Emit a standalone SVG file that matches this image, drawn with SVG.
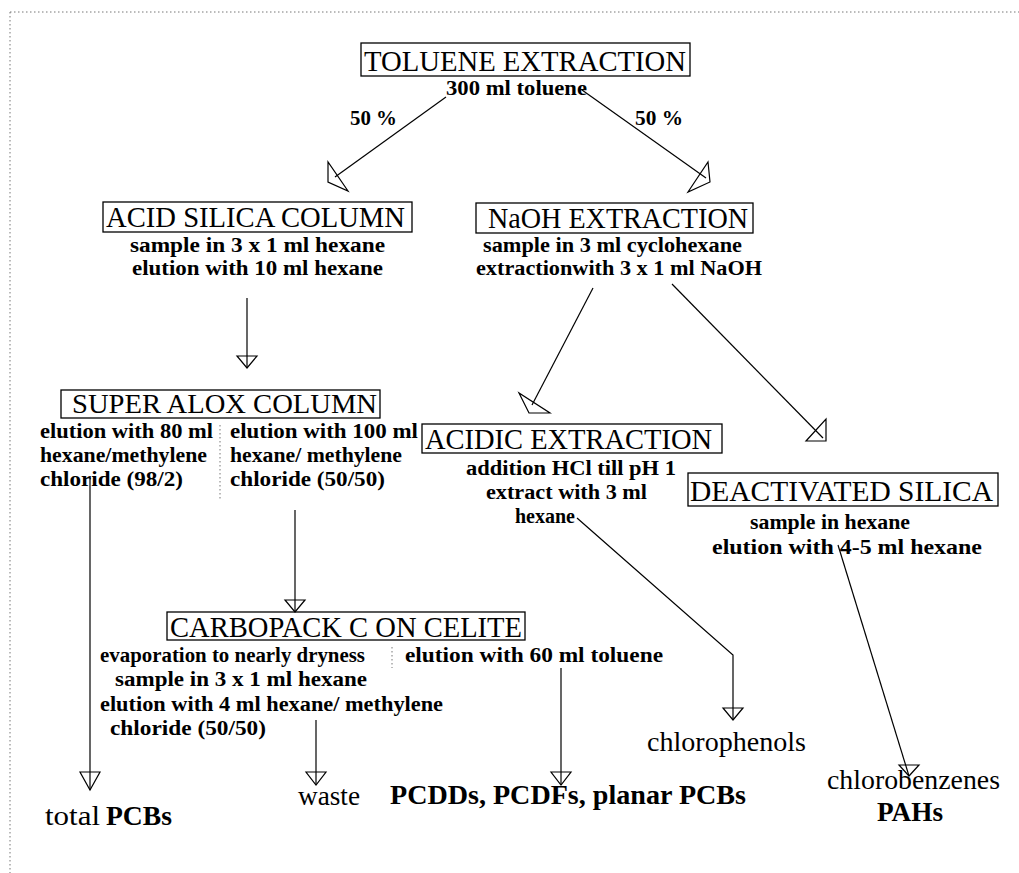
<svg xmlns="http://www.w3.org/2000/svg" width="1019" height="873" viewBox="0 0 1019 873">
<style>
text{font-family:'Liberation Serif','Times New Roman','DejaVu Serif',serif;fill:#000}
.t{font-size:30px}
.ts{font-size:28px}
.d{font-size:20px;font-weight:bold}
.o{font-size:28px}
.ob{font-size:28px;font-weight:bold}
.box{fill:none;stroke:#000;stroke-width:1.3}
.ln{fill:none;stroke:#000;stroke-width:1.2}
.ah{fill:none;stroke:#000;stroke-width:1.2;stroke-linejoin:miter}
.dot{fill:none;stroke:#777;stroke-width:1;stroke-dasharray:1.5 2.5}
</style>
<g id="border">
<line class="dot" x1="10" y1="12" x2="1019" y2="12"/>
<line class="dot" x1="10" y1="12" x2="10" y2="873"/>
</g>
<g font-family="'Liberation Serif', 'Times New Roman', serif">
<g id="toluene">
<rect class="box" x="361" y="43" width="329" height="33"/>
<text class="t" x="364" y="71" textLength="322" lengthAdjust="spacingAndGlyphs">TOLUENE EXTRACTION</text>
<text class="d" x="446" y="95" textLength="141" lengthAdjust="spacingAndGlyphs">300 ml toluene</text>
</g>
<g id="acid-silica">
<rect class="box" x="103" y="202" width="309" height="30"/>
<text class="t" x="106" y="227" textLength="299" lengthAdjust="spacingAndGlyphs">ACID SILICA COLUMN</text>
<text class="d" x="130" y="252" textLength="255" lengthAdjust="spacingAndGlyphs">sample in 3 x 1 ml hexane</text>
<text class="d" x="132" y="275" textLength="251" lengthAdjust="spacingAndGlyphs">elution with 10 ml hexane</text>
</g>
<g id="naoh">
<rect class="box" x="476" y="203" width="277" height="30"/>
<text class="t" x="488" y="228" textLength="260" lengthAdjust="spacingAndGlyphs">NaOH EXTRACTION</text>
<text class="d" x="483" y="252" textLength="259" lengthAdjust="spacingAndGlyphs">sample in 3 ml cyclohexane</text>
<text class="d" x="476" y="275" textLength="286" lengthAdjust="spacingAndGlyphs">extractionwith 3 x 1 ml NaOH</text>
</g>
<g id="super-alox">
<rect class="box" x="61" y="390" width="319" height="28"/>
<text class="ts" x="72" y="413" textLength="305" lengthAdjust="spacingAndGlyphs">SUPER ALOX COLUMN</text>
<text class="d" x="40" y="438" textLength="173" lengthAdjust="spacingAndGlyphs">elution with 80 ml</text>
<text class="d" x="40" y="462" textLength="167" lengthAdjust="spacingAndGlyphs">hexane/methylene</text>
<text class="d" x="40" y="486" textLength="143" lengthAdjust="spacingAndGlyphs">chloride (98/2)</text>
<text class="d" x="230" y="438" textLength="188" lengthAdjust="spacingAndGlyphs">elution with 100 ml</text>
<text class="d" x="230" y="462" textLength="172" lengthAdjust="spacingAndGlyphs">hexane/ methylene</text>
<text class="d" x="230" y="486" textLength="155" lengthAdjust="spacingAndGlyphs">chloride (50/50)</text>
<line class="dot" x1="220" y1="425" x2="220" y2="500"/>
</g>
<g id="acidic">
<rect class="box" x="422" y="424" width="300" height="29"/>
<text class="t" x="425" y="449" textLength="287" lengthAdjust="spacingAndGlyphs">ACIDIC EXTRACTION</text>
<text class="d" x="466" y="475" textLength="210" lengthAdjust="spacingAndGlyphs">addition HCl till pH 1</text>
<text class="d" x="486" y="499" textLength="161" lengthAdjust="spacingAndGlyphs">extract with 3 ml</text>
<text class="d" x="515" y="523" textLength="60" lengthAdjust="spacingAndGlyphs">hexane</text>
</g>
<g id="deactivated">
<rect class="box" x="688" y="473" width="310" height="33"/>
<text class="t" x="690" y="501" textLength="303" lengthAdjust="spacingAndGlyphs">DEACTIVATED SILICA</text>
<text class="d" x="750" y="529" textLength="160" lengthAdjust="spacingAndGlyphs">sample in hexane</text>
<text class="d" x="712" y="554" textLength="270" lengthAdjust="spacingAndGlyphs">elution  with 4-5 ml hexane</text>
</g>
<g id="carbopack">
<rect class="box" x="167" y="612" width="358" height="28"/>
<text class="t" x="170" y="637" textLength="352" lengthAdjust="spacingAndGlyphs">CARBOPACK C ON CELITE</text>
<text class="d" x="100" y="662" textLength="265" lengthAdjust="spacingAndGlyphs">evaporation to nearly dryness</text>
<text class="d" x="115" y="686" textLength="252" lengthAdjust="spacingAndGlyphs">sample in 3 x 1 ml hexane</text>
<text class="d" x="100" y="711" textLength="343" lengthAdjust="spacingAndGlyphs">elution with 4 ml hexane/ methylene</text>
<text class="d" x="110" y="735" textLength="156" lengthAdjust="spacingAndGlyphs">chloride (50/50)</text>
<text class="d" x="405" y="662" textLength="258" lengthAdjust="spacingAndGlyphs">elution with 60 ml toluene</text>
<line class="dot" x1="392" y1="647" x2="392" y2="668"/>
</g>
<g id="labels">
<text class="d" x="350" y="125" textLength="47" lengthAdjust="spacingAndGlyphs">50 %</text>
<text class="d" x="635" y="125" textLength="48" lengthAdjust="spacingAndGlyphs">50 %</text>
</g>
<g id="outputs">
<text class="o" x="45" y="825" textLength="55" lengthAdjust="spacingAndGlyphs">total</text>
<text class="ob" x="106" y="825" textLength="66" lengthAdjust="spacingAndGlyphs">PCBs</text>
<text class="o" x="298" y="805" textLength="62" lengthAdjust="spacingAndGlyphs">waste</text>
<text class="ob" x="390" y="804" textLength="356" lengthAdjust="spacingAndGlyphs">PCDDs, PCDFs, planar PCBs</text>
<text class="o" x="647" y="751" textLength="159" lengthAdjust="spacingAndGlyphs">chlorophenols</text>
<text class="o" x="827" y="789" textLength="173" lengthAdjust="spacingAndGlyphs">chlorobenzenes</text>
<text class="ob" x="877" y="821" textLength="66" lengthAdjust="spacingAndGlyphs">PAHs</text>
</g>
</g>
<g id="connectors">
<line class="ln" x1="446" y1="97" x2="335" y2="177"/>
<polygon class="ah" points="328,162 328,182 348,191"/>
<line class="ln" x1="582" y1="90" x2="706" y2="178"/>
<polygon class="ah" points="708,162 710,182 688,192"/>
<line class="ln" x1="247" y1="298" x2="247" y2="368"/>
<polygon class="ah" points="237,356 257,356 247,368"/>
<line class="ln" x1="593" y1="288" x2="532" y2="405"/>
<polygon class="ah" points="519,393 529,413 550,413"/>
<line class="ln" x1="672" y1="284" x2="823" y2="438"/>
<polygon class="ah" points="806,441 826,441 826,419"/>
<line class="ln" x1="90" y1="478" x2="90" y2="790"/>
<polygon class="ah" points="80,772 100,772 90,790"/>
<line class="ln" x1="295" y1="510" x2="295" y2="612"/>
<polygon class="ah" points="285,600 305,600 295,612"/>
<line class="ln" x1="316" y1="720" x2="316" y2="785"/>
<polygon class="ah" points="306,772 326,772 316,785"/>
<line class="ln" x1="561" y1="668" x2="561" y2="785"/>
<polygon class="ah" points="551,772 571,772 561,785"/>
<polyline class="ln" points="577,518 733,655 733,720"/>
<polygon class="ah" points="723,708 743,708 733,720"/>
<line class="ln" x1="838" y1="545" x2="909" y2="776"/>
<polygon class="ah" points="899,765 919,765 909,776"/>
</g>
</svg>
